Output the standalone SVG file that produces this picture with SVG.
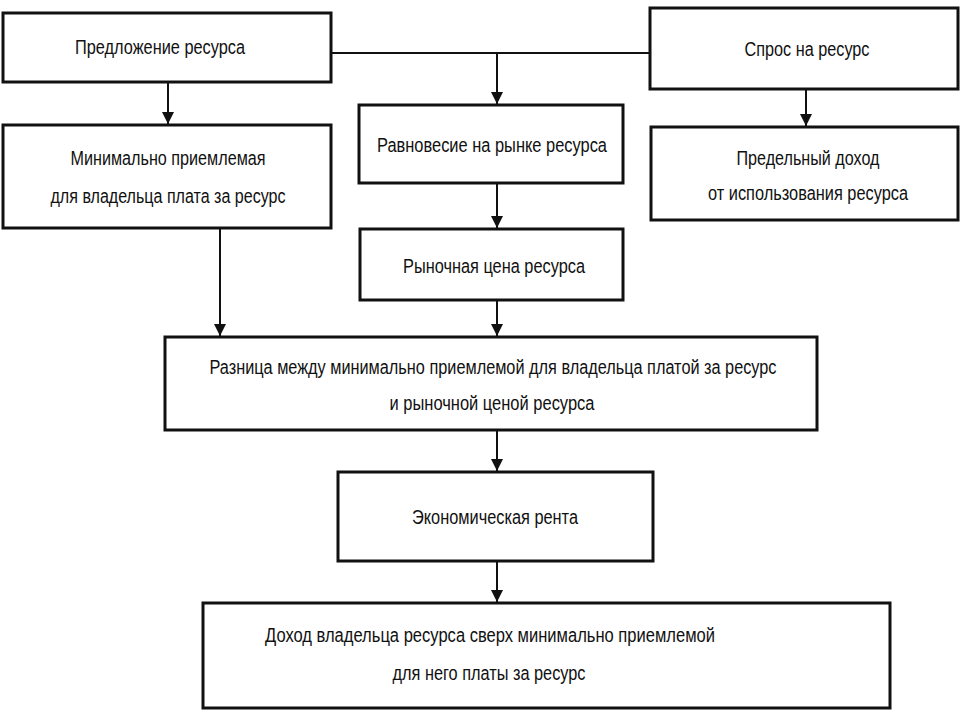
<svg xmlns="http://www.w3.org/2000/svg" width="960" height="711" viewBox="0 0 960 711">
<style>
.box{fill:#fff;stroke:#111;stroke-width:3}
.t{font-family:"Liberation Sans",Arial,sans-serif;font-size:20px;fill:#111;text-anchor:middle}
.c{fill:none;stroke:#111;stroke-width:2}
</style>
<defs>
<marker id="ah" viewBox="0 0 12 18" refX="12" refY="9" markerWidth="12" markerHeight="18" markerUnits="userSpaceOnUse" orient="auto">
<path d="M0,3 L12,9 L0,15 Z" fill="#111"/>
</marker>
</defs>
<rect width="960" height="711" fill="#fff"/>
<g id="connectors">
<path class="c" d="M331,53 H650"/>
<path class="c" d="M497,53 V104" marker-end="url(#ah)"/>
<path class="c" d="M168,82 V124" marker-end="url(#ah)"/>
<path class="c" d="M806,89 V126" marker-end="url(#ah)"/>
<path class="c" d="M497,183 V228" marker-end="url(#ah)"/>
<path class="c" d="M220,228 V336" marker-end="url(#ah)"/>
<path class="c" d="M497,300 V336" marker-end="url(#ah)"/>
<path class="c" d="M497,430 V471" marker-end="url(#ah)"/>
<path class="c" d="M497,561 V602" marker-end="url(#ah)"/>
</g>
<g id="n1"><rect class="box" x="3" y="13" width="328" height="69"/><text class="t" x="160" y="54" textLength="170" lengthAdjust="spacingAndGlyphs">Предложение ресурса</text></g>
<g id="n2"><rect class="box" x="650" y="8" width="308" height="81"/><text class="t" x="807" y="56" textLength="125" lengthAdjust="spacingAndGlyphs">Спрос на ресурс</text></g>
<g id="n3"><rect class="box" x="3" y="125" width="328" height="103"/><text class="t" x="168" y="165" textLength="195" lengthAdjust="spacingAndGlyphs">Минимально приемлемая</text><text class="t" x="168" y="203" textLength="235" lengthAdjust="spacingAndGlyphs">для владельца плата за ресурс</text></g>
<g id="n4"><rect class="box" x="359" y="105" width="264" height="78"/><text class="t" x="492" y="152" textLength="230" lengthAdjust="spacingAndGlyphs">Равновесие на рынке ресурса</text></g>
<g id="n5"><rect class="box" x="651" y="127" width="307" height="93"/><text class="t" x="808" y="165" textLength="143" lengthAdjust="spacingAndGlyphs">Предельный доход</text><text class="t" x="808" y="200" textLength="200" lengthAdjust="spacingAndGlyphs">от использования ресурса</text></g>
<g id="n6"><rect class="box" x="360" y="229" width="263" height="71"/><text class="t" x="494" y="273" textLength="182" lengthAdjust="spacingAndGlyphs">Рыночная цена ресурса</text></g>
<g id="n7"><rect class="box" x="165" y="337" width="652" height="93"/><text class="t" x="493" y="374" textLength="567" lengthAdjust="spacingAndGlyphs">Разница между минимально приемлемой для владельца платой за ресурс</text><text class="t" x="492" y="410" textLength="205" lengthAdjust="spacingAndGlyphs">и рыночной ценой ресурса</text></g>
<g id="n8"><rect class="box" x="338" y="472" width="315" height="89"/><text class="t" x="495" y="524" textLength="166" lengthAdjust="spacingAndGlyphs">Экономическая рента</text></g>
<g id="n9"><rect class="box" x="203" y="603" width="687" height="105"/><text class="t" x="490" y="642" textLength="450" lengthAdjust="spacingAndGlyphs">Доход владельца ресурса сверх минимально приемлемой</text><text class="t" x="489" y="680" textLength="193" lengthAdjust="spacingAndGlyphs">для него платы за ресурс</text></g>
</svg>
